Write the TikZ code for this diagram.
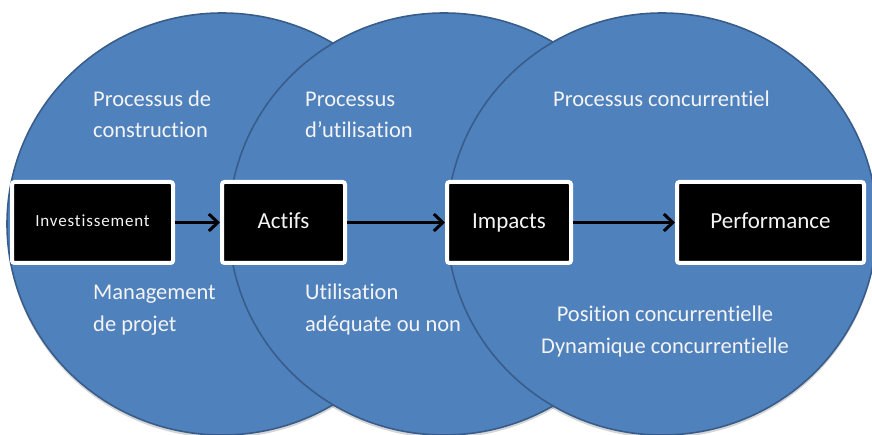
\documentclass[tikz,border=0pt]{standalone}
\usepackage{fontspec}
\setmainfont[Ligatures=NoCommon]{Carlito}
\usetikzlibrary{arrows.meta}
\definecolor{discfill}{HTML}{4F81BD}
\definecolor{discline}{HTML}{385D8A}
\definecolor{labeltext}{HTML}{F4F4F4}
\tikzset{
  disc/.style={fill=discfill, draw=discline, line width=1.6pt},
  discshadow/.style={fill=black, opacity=0.16},
  stagebox/.style={fill=black, draw=white, line width=4pt, rounded corners=2.5pt,
    text=labeltext, font=\fontsize{23}{26}\selectfont, inner sep=0pt,
    text height=15pt, text depth=3pt, minimum height=81pt},
  flow/.style={line width=3pt, -{Straight Barb[length=9pt, width=17pt, line width=3pt]}},
  lbl/.style={text=labeltext, font=\fontsize{22.5}{31}\selectfont, inner sep=0pt, anchor=base west},
  lblc/.style={lbl, anchor=base}
}
\begin{document}
\begin{tikzpicture}[x=1pt, y=-1pt]
  \useasboundingbox (0,0) rectangle (872,435);
  % soft drop shadows under the three discs
  \foreach \cx in {222,444,662}
    \fill[discshadow] (\cx,227) ellipse[x radius=215pt, y radius=211pt];
  % overlapping discs, drawn left to right
  \path[disc] (222,224) ellipse[x radius=215pt, y radius=211pt];
  \path[disc] (444,224) ellipse[x radius=215pt, y radius=211pt];
  \path[disc] (662,224) ellipse[x radius=215pt, y radius=211pt];

  % stage boxes
  \node[stagebox, minimum width=161pt, text height=12pt,
        font=\fontsize{17}{20}\selectfont\addfontfeature{LetterSpace=5}]
        (inv) at (92.5,222.5) {Investissement};
  \node[stagebox, minimum width=123pt] (act) at (283.5,222.5) {Actifs};
  \node[stagebox, minimum width=124pt] (imp) at (509,222.5) {Impacts};
  \node[stagebox, minimum width=187pt] (perf) at (770.5,222.5) {Performance};

  % flow between stages
  \draw[flow] (inv) -- (act);
  \draw[flow] (act) -- (imp);
  \draw[flow] (imp) -- (perf);

  % labels inside the discs
  \node[lbl] (l1a) at (93,107) {Processus de};
  \node[lbl] (l1b) at (93,138) {construction};
  \node[lbl] (l2a) at (305,107) {Processus};
  \node[lbl] (l2b) at (305,138) {d’utilisation};
  \node[lbl] (l3)  at (553,107) {Processus concurrentiel};
  \node[lbl] (l4a) at (93,300) {Management};
  \node[lbl] (l4b) at (93,331) {de projet};
  \node[lbl] (l5a) at (305,300) {Utilisation};
  \node[lbl] (l5b) at (305,331) {adéquate ou non};
  \node[lblc] (l6a) at (665,322) {Position concurrentielle};
  \node[lblc] (l6b) at (665,353) {Dynamique concurrentielle};
\end{tikzpicture}
\end{document}
